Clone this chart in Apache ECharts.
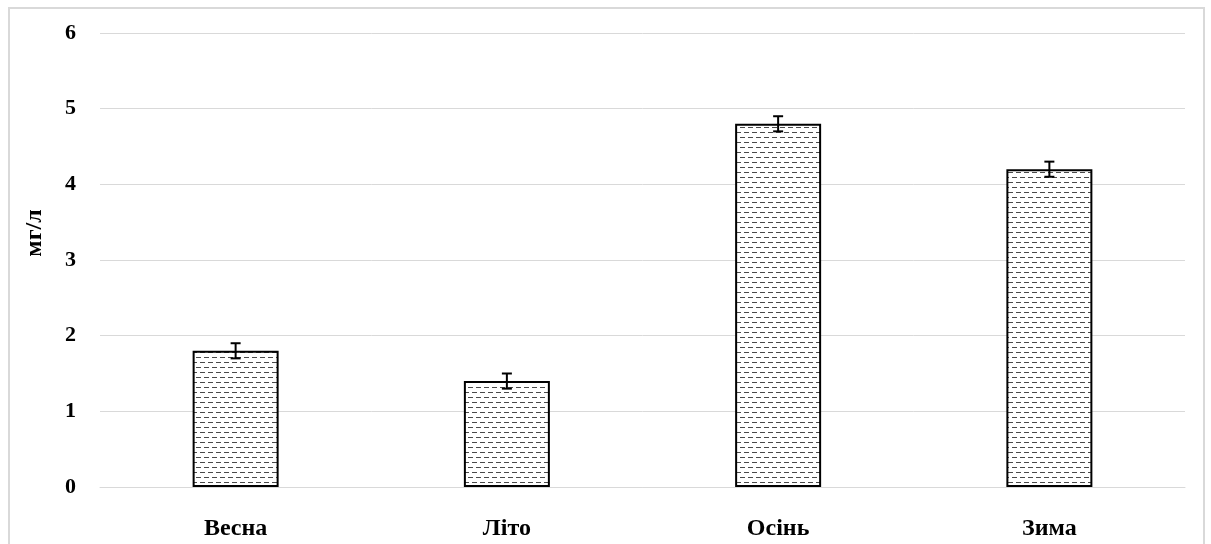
<!DOCTYPE html>
<html>
<head>
<meta charset="utf-8">
<script src="https://cdn.jsdelivr.net/npm/echarts@6/dist/echarts.min.js"></script>
<style>
  html, body { margin: 0; padding: 0; background: #fff; }
  #chart { width: 1211px; height: 544px; }
</style>
</head>
<body>
<div id="chart"></div>
<script>
// Seasonal concentration, mg/L, with ± error
const seasons = ['Весна', 'Літо', 'Осінь', 'Зима'];
const values = [1.8, 1.4, 4.8, 4.2];
const errors = [0.1, 0.1, 0.1, 0.1];
const yTicks = [0, 1, 2, 3, 4, 5, 6];

// Dashed hatch fill for the bars
function makeHatch() {
  const c = document.createElement('canvas');
  c.width = 8; c.height = 10;
  const g = c.getContext('2d');
  g.fillStyle = '#ffffff';
  g.fillRect(0, 0, 8, 10);
  g.fillStyle = '#4a4a4a';
  g.fillRect(0, 2, 5, 1);
  g.fillRect(4, 7, 5, 1);
  g.fillRect(0, 7, 1, 1);
  return c;
}

const serif = '"Liberation Serif", "Times New Roman", serif';
const chart = echarts.init(document.getElementById('chart'));

chart.setOption({
  animation: false,
  backgroundColor: '#ffffff',
  grid: { left: 100, right: 26, top: 33, bottom: 57, containLabel: false },
  xAxis: {
    type: 'category',
    data: seasons,
    axisLine: { show: true, lineStyle: { color: '#d9d9d9', width: 1 } },
    axisTick: { show: false },
    axisLabel: { margin: 30, color: '#000', fontFamily: serif, fontWeight: 'bold', fontSize: 24 }
  },
  yAxis: {
    type: 'value',
    min: yTicks[0],
    max: yTicks[yTicks.length - 1],
    interval: 1,
    axisLine: { show: false },
    axisTick: { show: false },
    splitLine: { lineStyle: { color: '#d9d9d9', width: 1 } },
    axisLabel: { margin: 24, color: '#000', fontFamily: serif, fontWeight: 'bold', fontSize: 22 }
  },
  graphic: [
    {
      type: 'rect',
      shape: { x: 9, y: 8, width: 1195, height: 560 },
      style: { fill: 'none', stroke: '#d9d9d9', lineWidth: 2 },
      silent: true
    },
    {
      type: 'text',
      x: 35, y: 233,
      rotation: Math.PI / 2,
      style: {
        text: 'мг/л',
        fill: '#000',
        font: 'bold 24px ' + serif,
        align: 'center',
        verticalAlign: 'middle'
      }
    }
  ],
  series: [
    {
      type: 'bar',
      data: values,
      barWidth: 86,
      itemStyle: {
        color: { image: makeHatch(), repeat: 'repeat' },
        borderColor: '#000',
        borderWidth: 2
      }
    },
    {
      type: 'custom',
      data: values.map((v, i) => [i, v - errors[i], v + errors[i]]),
      renderItem: function (params, api) {
        const lo = api.coord([api.value(0), api.value(1)]);
        const hi = api.coord([api.value(0), api.value(2)]);
        const half = 5;
        const st = { stroke: '#000', lineWidth: 2 };
        return {
          type: 'group',
          children: [
            { type: 'line', shape: { x1: lo[0], y1: lo[1], x2: hi[0], y2: hi[1] }, style: st },
            { type: 'line', shape: { x1: hi[0] - half, y1: hi[1], x2: hi[0] + half, y2: hi[1] }, style: st },
            { type: 'line', shape: { x1: lo[0] - half, y1: lo[1], x2: lo[0] + half, y2: lo[1] }, style: st }
          ]
        };
      },
      z: 5
    }
  ]
});
</script>
</body>
</html>
